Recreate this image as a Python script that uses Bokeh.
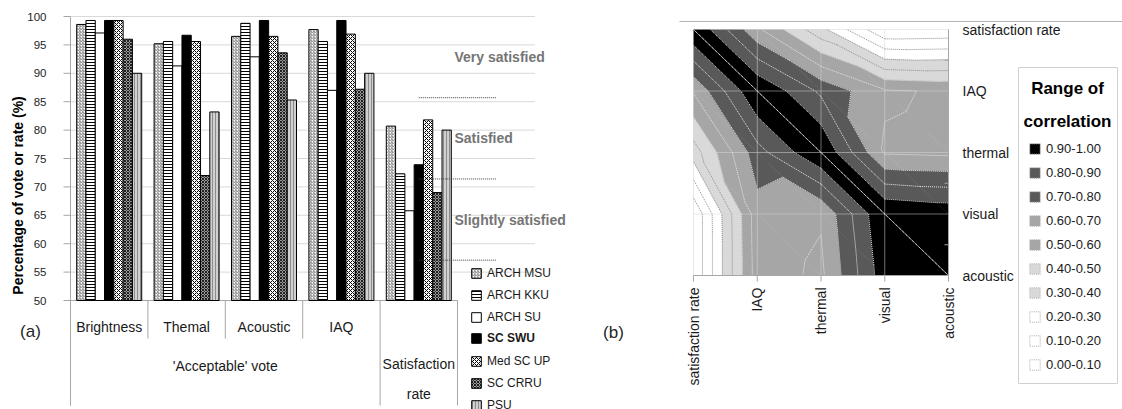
import numpy as np
from bokeh.plotting import figure
from bokeh.models import Range1d, Legend, LegendItem, ColumnDataSource
from bokeh.layouts import row
from bokeh.embed import file_html
from bokeh.resources import INLINE
from bokeh.core.properties import value

FONT = "Liberation Sans"

# ---------------- data, panel (a) ----------------
categories = ["Brightness", "Themal", "Acoustic", "IAQ", "Satisfaction rate"]
groups = ["'Acceptable' vote", "Satisfaction\nrate"]
group_sizes = [4, 1]
schools = ["ARCH MSU", "ARCH KKU", "ARCH SU", "SC SWU", "Med SC UP", "SC CRRU", "PSU"]
arch_msu = [98.6, 95.2, 96.5, 97.7, 80.7]
arch_kku = [99.3, 95.6, 98.8, 95.6, 72.3]
arch_su = [97.1, 91.3, 92.9, 87.0, 65.8]
sc_swu = [99.3, 96.7, 99.3, 99.3, 73.9]
med_sc_up = [99.3, 95.6, 96.5, 96.9, 81.8]
sc_crru = [96.0, 72.0, 93.6, 87.2, 69.0]
psu = [90.0, 83.2, 85.3, 90.0, 80.0]
y_ticks = [50, 55, 60, 65, 70, 75, 80, 85, 90, 95, 100]
y_label = "Percentage of vote  or rate (%)"
satisfaction_levels = ["Very satisfied", "Satisfied", "Slightly satisfied"]
level_bounds = [100.0, 85.7, 71.4, 57.1]

# ---------------- data, panel (b) ----------------
corr_vars = ["satisfaction rate", "IAQ", "thermal", "visual", "acoustic"]
corr_sat = [1.00, 0.62, 0.33, 0.01, 0.02]
corr_iaq = [0.61, 1.00, 0.78, 0.61, 0.59]
corr_thermal = [0.35, 0.76, 1.00, 0.59, 0.58]
corr_visual = [0.01, 0.66, 0.61, 1.00, 0.97]
corr_acoustic = [0.01, 0.65, 0.58, 0.96, 1.00]
levels = [0.0, 0.1, 0.2, 0.3, 0.4, 0.5, 0.6, 0.7, 0.8, 0.9, 1.0]
band_labels = ["0.00-0.10", "0.10-0.20", "0.20-0.30", "0.30-0.40", "0.40-0.50",
               "0.50-0.60", "0.60-0.70", "0.70-0.80", "0.80-0.90", "0.90-1.00"]
band_colors = ["#ffffff", "#ffffff", "#ffffff", "#d9d9d9", "#d9d9d9",
               "#a6a6a6", "#a6a6a6", "#595959", "#595959", "#000000"]
legend_title = ["Range of", "correlation"]

series = [arch_msu, arch_kku, arch_su, sc_swu, med_sc_up, sc_crru, psu]
bar_styles = [
    dict(fill_color="white", hatch_pattern="right_diagonal_line", hatch_color="#7f7f7f", hatch_scale=3.0, hatch_weight=1.0),
    dict(fill_color="white", hatch_pattern="horizontal_line", hatch_color="black", hatch_scale=3.0, hatch_weight=1.0),
    dict(fill_color="white"),
    dict(fill_color="black"),
    dict(fill_color="white", hatch_pattern="diagonal_cross", hatch_color="black", hatch_scale=4.0, hatch_weight=1.0),
    dict(fill_color="#9a9a9a", hatch_pattern="diagonal_cross", hatch_color="#202020", hatch_scale=3.0, hatch_weight=1.0),
    dict(fill_color="#d0d0d0", hatch_pattern="vertical_line", hatch_color="#8c8c8c", hatch_scale=3.0, hatch_weight=1.0),
]
AXIS_GRAY = "#a6a6a6"
TXT = "#1a1a1a"
H = 409          # canvas height (page has no margin in Bokeh's template)
SPLIT = 568      # page x where panel (b) starts
W = 1122

# ======================= panel (a) =======================
X0_PX, CAT_PX, Y100_PX, Y_PX = 70.0, 77.4, 16.0, 5.68
def ax(px):
    return (px - X0_PX) / CAT_PX
def ay(py):
    return y_ticks[-1] - (py - Y100_PX) / Y_PX

pa = figure(width=SPLIT, height=H, x_range=Range1d(ax(0), ax(SPLIT)), y_range=Range1d(ay(H), ay(0)),
            x_axis_location=None, y_axis_location=None, output_backend="svg", toolbar_location=None,
            min_border=0)
pa.min_border_left = pa.min_border_right = pa.min_border_top = pa.min_border_bottom = 0
pa.outline_line_color = None
pa.grid.visible = False

n_cat = len(categories)
n_ser = len(schools)
y0 = y_ticks[0]
y_bot = ay(405)

# gridlines (legend slot on the right included)
n_slots = n_cat + 1
pa.segment(x0=0, x1=n_slots, y0=y_ticks[1:], y1=y_ticks[1:], line_color="#d9d9d9", line_width=1)
pa.segment(x0=0, x1=n_cat, y0=y0, y1=y0, line_color=AXIS_GRAY, line_width=1)

# y axis drawn on the plot scale
pa.segment(x0=0, x1=0, y0=y_bot, y1=y_ticks[-1], line_color=AXIS_GRAY, line_width=1)
pa.segment(x0=ax(63), x1=0, y0=y_ticks, y1=y_ticks, line_color=AXIS_GRAY, line_width=1)
pa.text(x=ax(46), y=y_ticks, text=[str(t) for t in y_ticks], text_align="right", text_baseline="middle",
        text_font=value(FONT), text_font_size="11.5px", text_color="#262626")
pa.text(x=ax(17), y=ay(193), text=[y_label], angle=np.pi / 2, text_align="center", text_baseline="middle",
        text_font=value(FONT), text_font_size="14px", text_font_style="bold", text_color="#000000")

# category separators below the axis
bounds = [int(b) for b in np.concatenate([[0], np.cumsum(group_sizes)])]
inner = [i for i in range(n_cat + 1) if i not in bounds]
pa.segment(x0=inner, x1=inner, y0=y0, y1=ay(338), line_color=AXIS_GRAY, line_width=1)
pa.segment(x0=bounds, x1=bounds, y0=y0, y1=y_bot, line_color=AXIS_GRAY, line_width=1)

# bars
bar_w = 0.12
centers = np.arange(n_cat) + 0.5
bar_renderers = []
for k in range(n_ser):
    xs = centers + (k - (n_ser - 1) / 2) * bar_w
    r = pa.vbar(x=xs, top=series[k], bottom=y0, width=bar_w, line_color="black", line_width=1, **bar_styles[k])
    bar_renderers.append(r)

# category and group labels
sub_idx = []
start = 0
for g, size in enumerate(group_sizes):
    if size > 1:
        sub_idx += list(range(start, start + size))
    start += size
pa.text(x=[centers[i] for i in sub_idx], y=ay(326), text=[categories[i] for i in sub_idx],
        text_align="center", text_baseline="middle", text_font=value(FONT), text_font_size="14px",
        text_color=TXT)
g_x, g_y = [], []
start = 0
for g, size in enumerate(group_sizes):
    g_x.append(start + size / 2)
    n_lines = groups[g].count("\n") + 1
    g_y.append(ay(365 + (n_lines - 1) * 13.5))
    start += size
pa.text(x=g_x, y=g_y, text=groups, text_align="center", text_baseline="middle",
        text_font=value(FONT), text_font_size="14px", text_color=TXT, text_line_height=1.9)

# satisfaction levels
mid_levels = [(level_bounds[i] + level_bounds[i + 1]) / 2 for i in range(len(satisfaction_levels))]
pa.text(x=ax(454), y=mid_levels, text=satisfaction_levels, text_align="left", text_baseline="middle",
        text_font=value(FONT), text_font_size="14px", text_font_style="bold", text_color="#757575")
pa.segment(x0=n_cat - 0.5, x1=n_cat + 0.5, y0=level_bounds[1:], y1=level_bounds[1:],
           line_color="#404040", line_width=1, line_dash="1 1")

pa.text(x=ax(30), y=ay(331), text=["(a)"], text_align="center", text_baseline="middle",
        text_font=value(FONT), text_font_size="17px", text_color="#262626")

# legend (a)
def add_legend(idx, bold, top_px):
    items = [LegendItem(label=schools[i], renderers=[bar_renderers[i]]) for i in idx]
    n = len(idx)
    height = n * 14 + (n - 1) * 8
    vy = H - (top_px + height)
    lg = Legend(items=items, location=(470, vy), orientation="vertical", padding=0, spacing=8, margin=0,
                glyph_width=12, glyph_height=12, label_height=14, label_standoff=5,
                label_text_font=FONT, label_text_font_size="12px",
                label_text_font_style="bold" if bold else "normal", label_text_color=TXT,
                border_line_color=None, background_fill_alpha=0)
    pa.add_layout(lg, "center")

add_legend([0, 1, 2], False, 266)
add_legend([3], True, 331)
add_legend([4, 5, 6], False, 354)

# ======================= panel (b) =======================
X0B, XB_PX, Y0B, YB_PX = 693.0, 63.75, 275.0, 61.5
def bx(px):
    return (px - X0B) / XB_PX
def by(py):
    return (Y0B - py) / YB_PX

pb = figure(width=W - SPLIT, height=H, x_range=Range1d(bx(SPLIT), bx(W)), y_range=Range1d(by(H), by(0)),
            x_axis_location=None, y_axis_location=None, output_backend="svg", toolbar_location=None,
            min_border=0)
pb.min_border_left = pb.min_border_right = pb.min_border_top = pb.min_border_bottom = 0
pb.outline_line_color = None
pb.grid.visible = False

nv = len(corr_vars)
zgrid = [corr_acoustic, corr_visual, corr_thermal, corr_iaq, corr_sat]  # rows from bottom (y=0) to top

def clip(poly, level, keep_above):
    out = []
    n = len(poly)
    for a in range(n):
        p1 = poly[a]
        p2 = poly[(a + 1) % n]
        in1 = p1[2] >= level if keep_above else p1[2] <= level
        in2 = p2[2] >= level if keep_above else p2[2] <= level
        if in1:
            out.append(p1)
        if in1 != in2:
            t = (level - p1[2]) / (p2[2] - p1[2])
            out.append((p1[0] + t * (p2[0] - p1[0]), p1[1] + t * (p2[1] - p1[1]), level))
    return out

LIGHT_BANDS = ("#ffffff", "#d9d9d9")
pxs, pys, pcols = [], [], []
lxs, lys, lcols = [], [], []
for j in range(nv - 1):
    for i in range(nv - 1):
        BL = (i, j, zgrid[j][i])
        BR = (i + 1, j, zgrid[j][i + 1])
        TR = (i + 1, j + 1, zgrid[j + 1][i + 1])
        TL = (i, j + 1, zgrid[j + 1][i])
        for tri in ([TL, BL, BR], [TL, BR, TR]):
            for b in range(len(levels) - 1):
                poly = clip(list(tri), levels[b], True)
                if len(poly) >= 3:
                    poly = clip(poly, levels[b + 1], False)
                if len(poly) >= 3:
                    pxs.append([p[0] for p in poly])
                    pys.append([p[1] for p in poly])
                    pcols.append(band_colors[b])
            edges = ((tri[0], tri[1]), (tri[1], tri[2]), (tri[2], tri[0]))
            for li in range(1, len(levels) - 1):
                lev = levels[li]
                pts = []
                for p1, p2 in edges:
                    if (p1[2] - lev) * (p2[2] - lev) < 0:
                        t = (lev - p1[2]) / (p2[2] - p1[2])
                        pts.append((p1[0] + t * (p2[0] - p1[0]), p1[1] + t * (p2[1] - p1[1])))
                if len(pts) == 2:
                    lxs.append([pts[0][0], pts[1][0]])
                    lys.append([pts[0][1], pts[1][1]])
                    lcols.append("#8c8c8c" if band_colors[li] in LIGHT_BANDS else "#e3e3e3")
            for p1, p2 in edges:
                if p1[2] == levels[-1] and p2[2] == levels[-1]:
                    lxs.append([p1[0], p2[0]])
                    lys.append([p1[1], p2[1]])
                    lcols.append("#e3e3e3")

pb.patches(xs="xs", ys="ys", fill_color="c", line_color="c", line_width=0.6,
           source=ColumnDataSource(dict(xs=pxs, ys=pys, c=pcols)))
pb.multi_line(xs="xs", ys="ys", line_color="c", line_dash="1 1", line_width=1,
              source=ColumnDataSource(dict(xs=lxs, ys=lys, c=lcols)))

# grid (dotted, over the fill)
ticks_b = list(range(nv))
pb.segment(x0=ticks_b, x1=ticks_b, y0=0, y1=nv - 1, line_color="#d4d4d4", line_dash="1 1", line_width=1)
pb.segment(x0=0, x1=nv - 1, y0=ticks_b, y1=ticks_b, line_color="#d4d4d4", line_dash="1 1", line_width=1)

# bottom axis
pb.segment(x0=0, x1=nv - 1, y0=0, y1=0, line_color=AXIS_GRAY, line_width=1)
pb.segment(x0=ticks_b, x1=ticks_b, y0=0, y1=by(281), line_color=AXIS_GRAY, line_width=1)
pb.text(x=ticks_b, y=by(287), text=corr_vars, angle=np.pi / 2, text_align="right", text_baseline="middle",
        text_font=value(FONT), text_font_size="14px", text_color=TXT)
# right axis
pb.segment(x0=nv - 1, x1=nv - 1, y0=0, y1=nv - 1, line_color=AXIS_GRAY, line_width=1)
minor = [t + 0.5 for t in ticks_b[:-1]]
pb.segment(x0=bx(944), x1=nv - 1, y0=minor, y1=minor, line_color=AXIS_GRAY, line_width=1)
pb.text(x=bx(962), y=[nv - 1 - t for t in ticks_b], text=corr_vars, text_align="left", text_baseline="middle",
        text_font=value(FONT), text_font_size="14px", text_color=TXT)

# top rule
pb.segment(x0=bx(679), x1=bx(W), y0=by(21), y1=by(21), line_color="#b5b5b5", line_width=1)

pb.text(x=bx(613), y=by(332), text=["(b)"], text_align="center", text_baseline="middle",
        text_font=value(FONT), text_font_size="17px", text_color="#262626")

# legend (b): box, title, items
pb.quad(left=bx(1018), right=bx(1117), top=by(67), bottom=by(383), fill_color="white", line_color="#d0d0d0")
pb.text(x=bx(1067), y=[by(88), by(121)], text=legend_title, text_align="center", text_baseline="middle",
        text_font=value(FONT), text_font_size="17px", text_font_style="bold", text_color="#000000")
nan1 = np.array([np.nan])
band_renderers = [pb.quad(left=nan1, right=nan1, top=nan1, bottom=nan1, fill_color=c,
                          line_color="#b0b0b0", line_dash="1 1") for c in band_colors]
leg_items = [LegendItem(label=band_labels[i], renderers=[band_renderers[i]]) for i in reversed(range(len(band_labels)))]
n_items = len(leg_items)
ROW_H, ROW_GAP = 16, 8
leg_bottom_px = 364 + ROW_H / 2
legb = Legend(items=leg_items, location=(1028 - SPLIT, H - leg_bottom_px), orientation="vertical",
              padding=0, spacing=ROW_GAP, margin=0, glyph_width=13, glyph_height=13, label_height=ROW_H,
              label_standoff=5, label_text_font=FONT, label_text_font_size="13px", label_text_color=TXT,
              border_line_color=None, background_fill_alpha=0)
pb.add_layout(legb, "center")

layout = row(pa, pb)
open("out.html", "w").write(file_html(layout, INLINE))
